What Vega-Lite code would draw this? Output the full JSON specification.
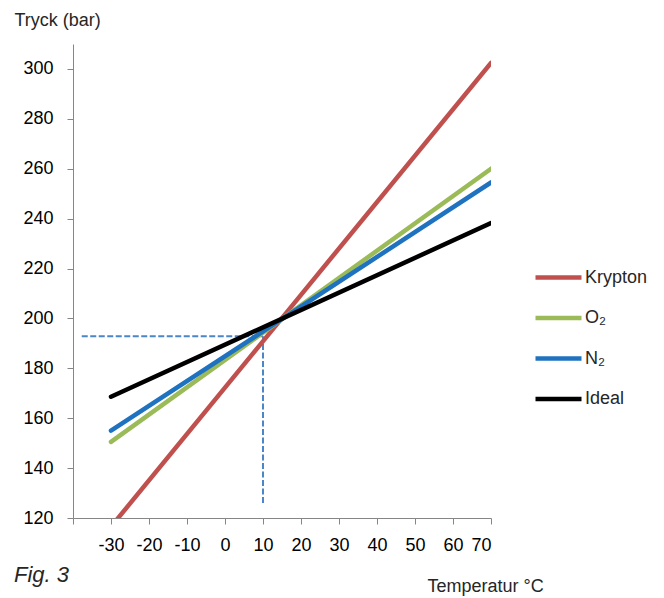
{
  "$schema": "https://vega.github.io/schema/vega-lite/v6.json",
  "width": 418,
  "height": 474,
  "autosize": {"type": "none"},
  "padding": {"left": 73, "top": 44, "right": 173, "bottom": 80},
  "background": "white",
  "config": {
    "font": "Liberation Sans",
    "view": {"stroke": null},
    "axis": {"grid": false, "domainColor": "#868686", "tickColor": "#868686", "tickSize": 6, "labelFont": "Liberation Sans", "labelFontSize": 18, "labelColor": "#000000", "titleFont": "Liberation Sans", "titleFontSize": 18, "titleFontWeight": "normal", "titleColor": "#262626"}
  },
  "title": {"text": "Fig. 3", "orient": "top", "anchor": "start", "frame": "group", "dx": -59, "dy": 580, "fontSize": 22, "fontStyle": "italic", "fontWeight": "normal", "font": "Liberation Sans", "color": "#262626"},
  "datasets": {
    "series": [
      {"t": -30, "p": 116.5, "gas": "Krypton"},
      {"t": 70, "p": 302.4, "gas": "Krypton"},
      {"t": -30, "p": 150.5, "gas": "O₂"},
      {"t": 70, "p": 260.0, "gas": "O₂"},
      {"t": -30, "p": 155.0, "gas": "N₂"},
      {"t": 70, "p": 254.5, "gas": "N₂"},
      {"t": -30, "p": 168.6, "gas": "Ideal"},
      {"t": 70, "p": 238.2, "gas": "Ideal"}
    ],
    "guides": [
      {"t": -37.7, "t2": 10, "p": 192.9, "p2": 192.9},
      {"t": 10, "t2": 10, "p": 126, "p2": 192.9}
    ]
  },
  "encoding": {
    "x": {"field": "t", "type": "quantitative", "scale": {"domain": [-40, 70], "nice": false, "zero": false},
      "axis": {"values": [-40, -30, -20, -10, 0, 10, 20, 30, 40, 50, 60, 70], "labelExpr": "datum.value == -40 ? '' : '' + datum.value", "labelPadding": 12, "title": "Temperatur °C", "titleAnchor": "start", "titleAlign": "left", "titleBaseline": "alphabetic", "titleX": 354, "titleY": 73}},
    "y": {"field": "p", "type": "quantitative", "scale": {"domain": [120, 310], "nice": false, "zero": false},
      "axis": {"values": [120, 140, 160, 180, 200, 220, 240, 260, 280, 300], "labelPadding": 14, "title": "Tryck (bar)", "titleAngle": 0, "titleAlign": "left", "titleBaseline": "alphabetic", "titleX": -59, "titleY": -19}}
  },
  "layer": [
    {
      "data": {"name": "guides"},
      "mark": {"type": "rule", "color": "#4A86C8", "strokeWidth": 2, "strokeDash": [6, 2.5]},
      "encoding": {
        "x2": {"field": "t2"},
        "y2": {"field": "p2"}
      }
    },
    {
      "data": {"name": "series"},
      "mark": {"type": "line", "strokeWidth": 4.5, "strokeCap": "round", "clip": true},
      "encoding": {
        "color": {"field": "gas", "type": "nominal",
          "scale": {"domain": ["Krypton", "O₂", "N₂", "Ideal"], "range": ["#C0504D", "#9BBB59", "#1F72BF", "#000000"]},
          "legend": {"title": null, "orient": "none", "legendX": 460, "legendY": 208, "symbolType": "stroke", "symbolSize": 2116, "symbolStrokeWidth": 4.5, "labelFontSize": 18, "labelFont": "Liberation Sans", "labelColor": "#262626", "labelOffset": 1, "rowPadding": 5.5}}
      }
    }
  ]
}
